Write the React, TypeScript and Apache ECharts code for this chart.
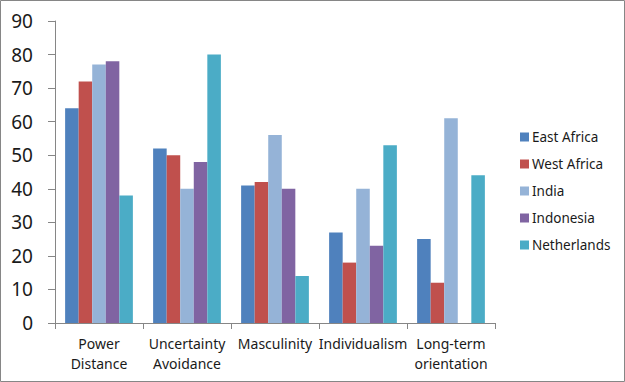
import React, { useEffect, useRef } from "react";
import * as echarts from "echarts";

const categories = ["Power\nDistance", "Uncertainty\nAvoidance", "Masculinity", "Individualism", "Long-term\norientation"];
const seriesNames = ["East Africa", "West Africa", "India", "Indonesia", "Netherlands"];
const eastAfrica = [64, 52, 41, 27, 25];
const westAfrica = [72, 50, 42, 18, 12];
const india = [77, 40, 56, 40, 61];
const indonesia = [78, 48, 40, 23, null];
const netherlands = [38, 80, 14, 53, 44];
const colors = ["#4F81BD", "#C0504D", "#95B3D7", "#8064A2", "#4BACC6"];
const yTicks = [0, 10, 20, 30, 40, 50, 60, 70, 80, 90];

export default function App() {
  const ref = useRef<HTMLDivElement>(null);
  useEffect(() => {
    if (!ref.current) return;
    const chart = echarts.init(ref.current, null, { renderer: "svg" });
    const data = [eastAfrica, westAfrica, india, indonesia, netherlands];
    const font = "'Noto Sans', sans-serif";
    chart.setOption({
      animation: false,
      backgroundColor: "#ffffff",
      textStyle: { fontFamily: font },
      graphic: [
        {
          type: "rect",
          shape: { x: 0.5, y: 0.5, width: 624, height: 381 },
          style: { fill: "none", stroke: "#868686", lineWidth: 1 },
          silent: true,
        },
      ],
      grid: { left: 55, right: 130, top: 21, bottom: 59 },
      legend: {
        orient: "vertical",
        left: 515,
        top: 125,
        itemWidth: 9,
        itemHeight: 9,
        itemGap: 13,
        icon: "rect",
        textStyle: { fontSize: 13.5, color: "#1a1a1a", fontFamily: font, padding: [0, 0, 0, -2] },
        data: seriesNames,
      },
      xAxis: {
        type: "category",
        data: categories,
        axisLine: { lineStyle: { color: "#868686", width: 1 } },
        axisTick: { show: true, length: 6, alignWithLabel: false, lineStyle: { color: "#868686" } },
        axisLabel: {
          interval: 0,
          fontSize: 14,
          lineHeight: 20,
          color: "#1a1a1a",
          margin: 10,
          fontFamily: font,
        },
      },
      yAxis: {
        type: "value",
        min: yTicks[0],
        max: yTicks[yTicks.length - 1],
        interval: 10,
        splitLine: { show: false },
        axisLine: { show: true, lineStyle: { color: "#868686", width: 1 } },
        axisTick: { show: true, length: 7, lineStyle: { color: "#868686" } },
        axisLabel: { fontSize: 19, color: "#1a1a1a", margin: 22, fontFamily: font },
      },
      series: seriesNames.map((name, i) => ({
        name,
        type: "bar",
        data: data[i],
        barGap: "0%",
        barCategoryGap: "23%",
        itemStyle: { color: colors[i] },
      })),
    });
    return () => chart.dispose();
  }, []);
  return (
    <div
      ref={ref}
      style={{ position: "fixed", left: 0, top: 0, width: 625, height: 382 }}
    />
  );
}
